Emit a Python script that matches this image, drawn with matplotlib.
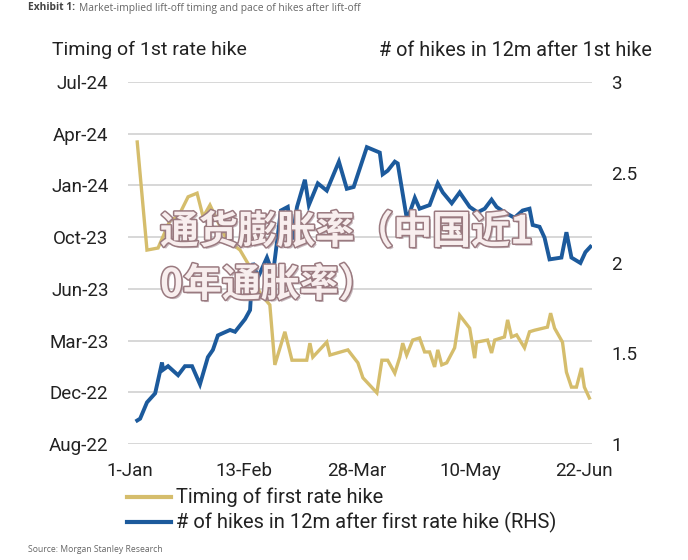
import matplotlib.pyplot as plt
import matplotlib.patheffects as pe

# x = days since 1-Jan
gold_day = [2.7, 6.4, 10.6, 15.2, 18.2, 22.0, 25.4, 27.7, 30.3, 33.0, 36.7, 41.7, 45.5, 49.2,
            53.0, 54.9, 58.7, 61.4, 67.0, 68.2, 69.3, 74.6, 75.8, 82.6, 86.4, 88.3, 93.6, 95.5,
            97.7, 100.4, 102.3, 103.4, 104.9, 107.2, 109.8, 111.7, 113.6, 115.5, 116.7, 118.2,
            120.1, 123.1, 125.0, 128.8, 130.7, 131.4, 135.6, 137.1, 138.3, 142.0, 143.2, 144.7,
            146.6, 149.6, 151.5, 153.4, 158.3, 159.5, 161.0, 164.0, 165.5, 167.4, 169.3, 171.2,
            172.3, 174.2]
# left axis in tick steps: 0 = Aug-22 ... 7 = Jul-24
gold_val = [5.84, 3.75, 3.79, 4.33, 4.39, 4.78, 4.85, 4.39, 4.62, 4.33, 3.95, 3.75, 3.42, 2.92,
            2.69, 1.53, 2.17, 1.62, 1.62, 1.95, 1.68, 1.97, 1.72, 1.82, 1.57, 1.28, 0.99, 1.62,
            1.62, 1.37, 1.68, 1.95, 1.72, 2.01, 2.05, 1.78, 1.78, 1.49, 1.82, 1.53,
            1.57, 1.86, 2.49, 2.24, 1.66, 1.97, 2.01, 1.76, 2.01, 2.07, 2.40, 2.07,
            2.11, 1.86, 2.17, 2.20, 2.26, 2.53, 2.24, 1.97, 1.39, 1.10, 1.10, 1.47,
            1.10, 0.89]

blue_day = [2.7, 3.8, 6.4, 9.5, 12.1, 12.5, 14.4, 18.2, 20.8, 23.5, 26.5, 29.5, 31.4, 33.3,
            34.8, 37.9, 39.8, 43.6, 45.5, 46.6, 48.5, 51.9, 54.2, 57.2, 59.8, 61.4, 63.3, 66.3,
            67.8, 71.2, 74.6, 79.2, 82.2, 84.8, 89.8, 94.7, 95.8, 97.7, 100.4, 101.5, 104.9,
            106.1, 108.0, 109.8, 113.6, 116.7, 118.6, 122.0, 125.0, 128.8, 131.8, 134.5, 137.1,
            139.0, 142.0, 145.8, 148.9, 151.5, 152.7, 155.3, 157.2, 159.1, 163.6, 165.5, 167.4,
            170.8, 172.7, 174.6]
blue_val = [1.13, 1.14, 1.23, 1.28, 1.45, 1.41, 1.43, 1.38, 1.43, 1.43, 1.33, 1.48, 1.52, 1.60,
            1.61, 1.63, 1.62, 1.69, 1.74, 2.00, 1.92, 2.03, 1.94, 2.29, 2.31, 2.13, 2.31, 2.46,
            2.32, 2.44, 2.40, 2.56, 2.41, 2.42, 2.64, 2.61, 2.49, 2.51, 2.56, 2.55, 2.25,
            2.28, 2.36, 2.30, 2.32, 2.44, 2.39, 2.33, 2.39, 2.31, 2.28, 2.30, 2.35,
            2.31, 2.28, 2.25, 2.29, 2.30, 2.21, 2.20, 2.14, 2.02, 2.03, 2.17, 2.03,
            2.00, 2.06, 2.09]

left_labels = ['Aug-22', 'Dec-22', 'Mar-23', 'Jun-23', 'Oct-23', 'Jan-24', 'Apr-24', 'Jul-24']
right_ticks = [1, 1.5, 2, 2.5, 3]
x_ticks = [0, 43, 86, 129, 172]
x_labels = ['1-Jan', '13-Feb', '28-Mar', '10-May', '22-Jun']

GOLD = '#d5bd6c'
BLUE = '#1c5a9c'
TXT = '#222222'
plt.rcParams['font.family'] = ['Roboto', 'DejaVu Sans']

fig = plt.figure(figsize=(6.88, 5.60), dpi=100)
ax = fig.add_axes([128 / 688, 1 - 444 / 560, 464 / 688, 362 / 560])
ax2 = ax.twinx()

for a in (ax, ax2):
    for s in a.spines.values():
        s.set_visible(False)
    a.tick_params(length=0, labelsize=13.5, colors=TXT)

ax.set_xlim(-0.8, 175.2)
ax.set_ylim(0, 7)
ax.set_yticks(range(8))
ax.set_yticklabels(left_labels)
ax.set_xticks(x_ticks)
ax.set_xticklabels(x_labels)
ax.tick_params(axis='y', pad=14)
ax.tick_params(axis='x', pad=13)
ax.grid(axis='y', color='#d4d4d4', lw=1.3)
ax.set_axisbelow(True)

ax2.set_ylim(1, 3)
ax2.set_yticks(right_ticks)
ax2.set_yticklabels(['1', '1.5', '2', '2.5', '3'])
ax2.tick_params(axis='y', pad=14)

ax.plot(gold_day, gold_val, color=GOLD, lw=2.4, solid_joinstyle='miter', zorder=3)
ax2.plot(blue_day, blue_val, color=BLUE, lw=2.8, solid_joinstyle='miter', zorder=3)

fig.text(52 / 688, 1 - 50 / 560, 'Timing of 1st rate hike', fontsize=14, color=TXT, va='center')
fig.text(652 / 688, 1 - 50 / 560, '# of hikes in 12m after 1st hike', fontsize=14.3, color=TXT,
         va='center', ha='right')

# legend drawn by hand beneath the axes
lx0, lx1, tx = 127 / 688, 171 / 688, 176 / 688
for yy, col, lab in [(497, GOLD, 'Timing of first rate hike'),
                     (522, BLUE, '# of hikes in 12m after first rate hike (RHS)')]:
    fig.add_artist(plt.Line2D([lx0, lx1], [1 - yy / 560] * 2, color=col, lw=3,
                              transform=fig.transFigure))
    fig.text(tx, 1 - yy / 560, lab, fontsize=14.5, color=TXT, va='center')

fig.text(28 / 688, 1 - 8 / 560, 'Exhibit 1:', fontsize=7.4, color='#444444', fontweight='bold',
         va='center', family=['Open Sans', 'DejaVu Sans'])
fig.text(79 / 688, 1 - 8 / 560, 'Market-implied lift-off timing and pace of hikes after lift-off',
         fontsize=7.4, color='#666666', va='center', family=['Open Sans', 'DejaVu Sans'])
fig.text(28 / 688, 1 - 549 / 560, 'Source: Morgan Stanley Research', fontsize=6.2, color='#666666',
         va='center', family=['Open Sans', 'DejaVu Sans'])

# watermark over the chart
wm = [pe.withSimplePatchShadow(offset=(1.5, -1.5), shadow_rgbFace='#a08890', alpha=0.6),
      pe.withStroke(linewidth=2.2, foreground='#9a7a80')]
for yy, s in [(232, '通货膨胀率（中国近1'), (285, '0年通胀率）')]:
    fig.text(160 / 688, 1 - yy / 560, s, fontsize=28, color='#f8eeee', fontweight='bold',
             va='center', family=['Noto Sans CJK SC', 'DejaVu Sans'], path_effects=wm, zorder=10)

fig.savefig('out.png', dpi=100, facecolor='white')
